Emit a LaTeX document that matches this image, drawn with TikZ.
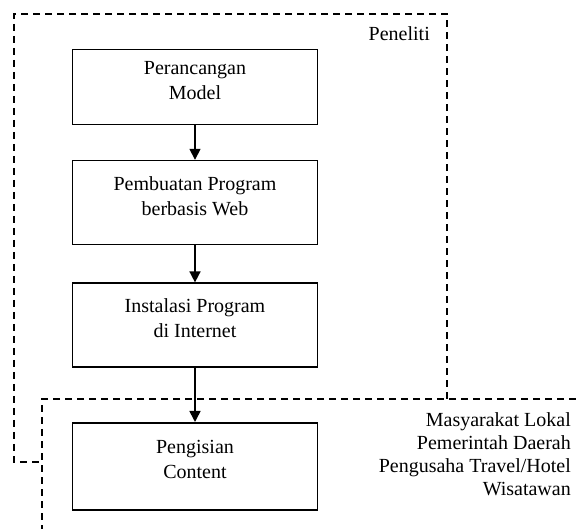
\documentclass[tikz,border=0pt]{standalone}
\usepackage{fontspec}
\setmainfont{Liberation Serif}
\usetikzlibrary{positioning,arrows.meta}
\tikzset{stepbox/.style={draw,line width=1.6pt,minimum width=245pt,align=center,text depth=14pt}}
\tikzset{flow/.style={-{Triangle[length=11pt,width=11pt]},line width=1.6pt}}
\tikzset{area/.style={line width=1.3pt,dash pattern=on 7pt off 5pt}}

\begin{document}
\begin{tikzpicture}[x=1pt,y=-1pt,font=\fontsize{20}{25}\selectfont]
  \useasboundingbox (0,0) rectangle (576,529);
  % dashed areas
  \draw[area] (447,399) -- (447,14) -- (14,14) -- (14,462) -- (42,462);
  \draw[area] (576,399) -- (42,399) -- (42,529);

  \node[stepbox,minimum height=75pt] (model) at (195,87) {Perancangan\\Model};
  \node[stepbox,minimum height=84pt,below=34.5pt of model] (web) {Pembuatan Program\\berbasis Web};
  \node[stepbox,minimum height=84pt,below=37pt of web] (inet) {Instalasi Program\\di Internet};
  \node[stepbox,minimum height=87pt,below=54pt of inet] (isi) {Pengisian\\Content};

  \draw[flow] (model) -- (web);
  \draw[flow] (web) -- (inet);
  \draw[flow] (inet) -- (isi);

  \node[anchor=east,inner sep=0pt] (peneliti) at (430,34) {Peneliti};
  \node[anchor=north east,inner sep=0pt,align=right,font=\fontsize{20}{23}\selectfont] (pengguna) at (571,412)
    {Masyarakat Lokal\\Pemerintah Daerah\\Pengusaha Travel/Hotel\\Wisatawan};
\end{tikzpicture}
\end{document}
